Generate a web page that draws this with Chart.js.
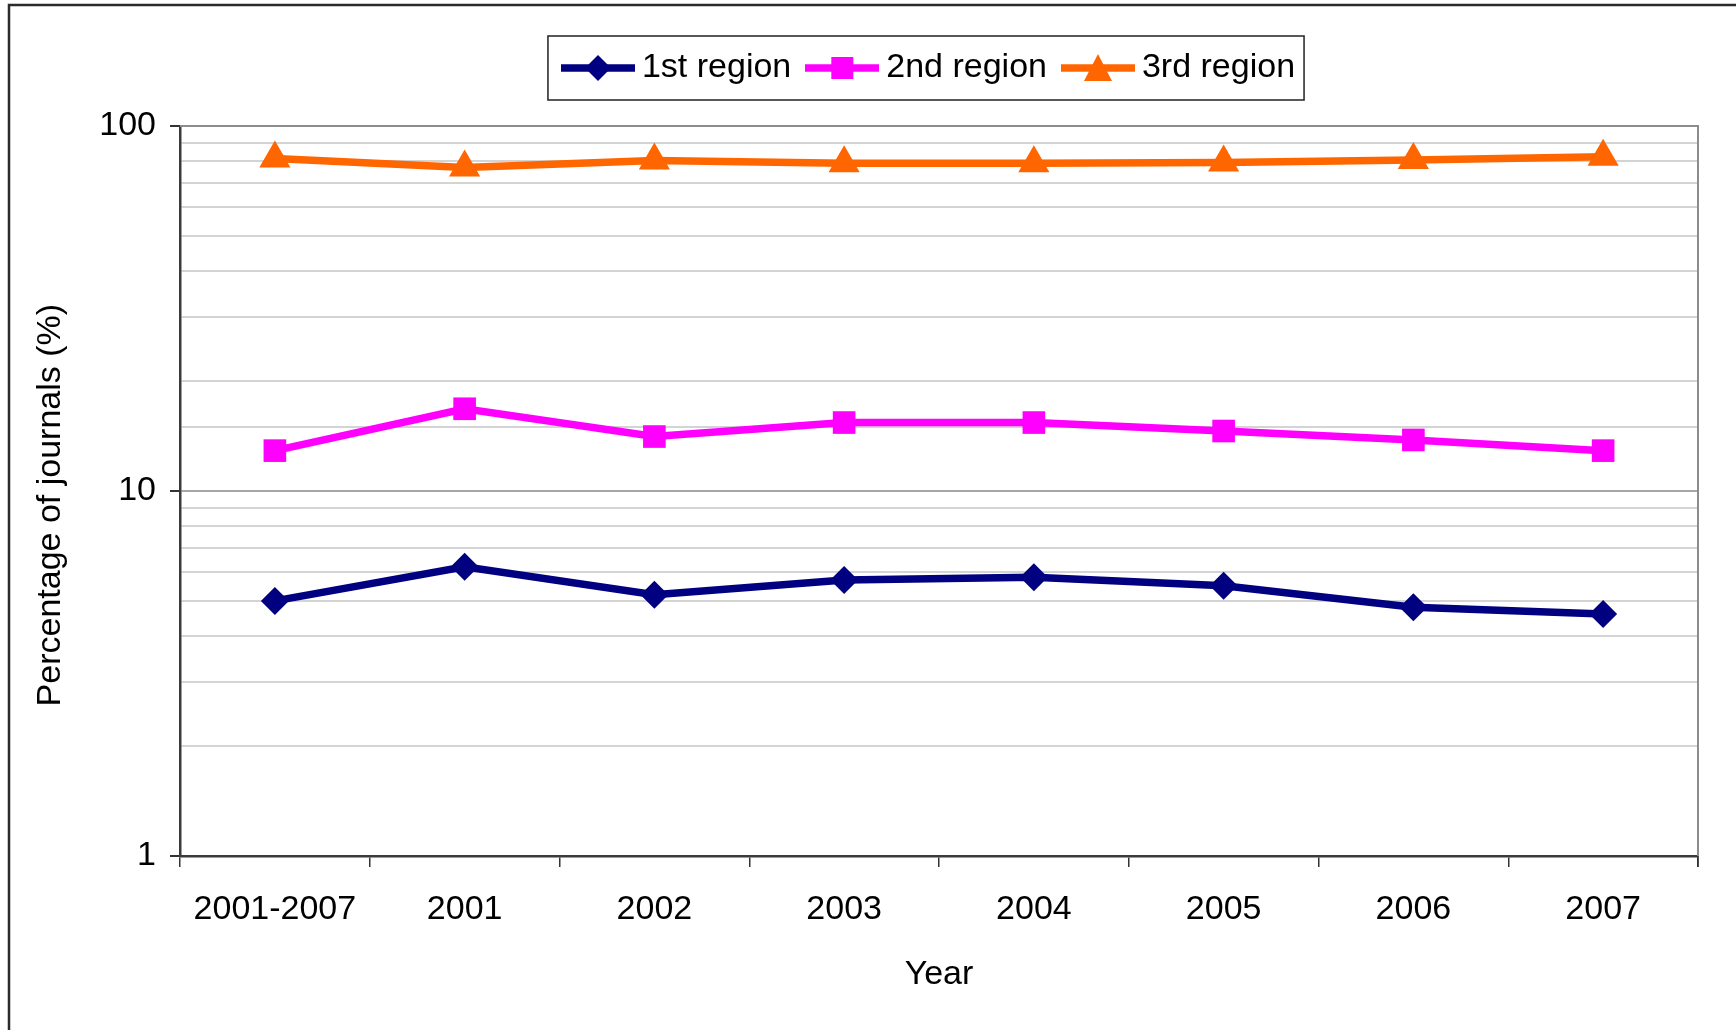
<!DOCTYPE html>
<html>
<head>
<meta charset="utf-8">
<title>Percentage of journals by region</title>
<script src="https://cdn.jsdelivr.net/npm/chart.js@4/dist/chart.umd.min.js"></script>
<style>
  html, body { margin: 0; padding: 0; background: #fff; }
  #chart { display: block; }
</style>
</head>
<body>
<canvas id="chart" width="1736" height="1030"></canvas>
<script>
// Values (log scale, percent)
const years = ['2001-2007', '2001', '2002', '2003', '2004', '2005', '2006', '2007'];
const region1 = [5.0, 6.2, 5.2, 5.7, 5.8, 5.5, 4.8, 4.6];
const region2 = [12.9, 16.8, 14.1, 15.4, 15.4, 14.6, 13.8, 12.9];
const region3 = [81.5, 77.0, 80.5, 79.0, 79.0, 79.4, 80.7, 82.4];
const seriesNames = ['1st region', '2nd region', '3rd region'];
const yTickLabels = [1, 10, 100];

const FONT = "'Liberation Sans', Arial, sans-serif";
const FONT_SIZE = 34;
const NAVY = '#000080';
const MAGENTA = '#FF00FF';
const ORANGE = '#FF6600';
const LINE_W = 7.5;

// where the legend sits, centred over the plot like the original
const LEGEND_CX = 933;
const LEGEND_CY = 68;

const isMajor = v => yTickLabels.includes(v);

// little "line + marker" icons for the legend
function legendIcon(color, shape) {
    const c = document.createElement('canvas');
    c.width = 74;
    c.height = 32;
    const g = c.getContext('2d');
    g.strokeStyle = color;
    g.fillStyle = color;
    g.lineWidth = LINE_W;
    g.beginPath();
    g.moveTo(0, 16);
    g.lineTo(74, 16);
    g.stroke();
    g.beginPath();
    if (shape === 'diamond') {
        g.moveTo(37, 3); g.lineTo(50, 16); g.lineTo(37, 29); g.lineTo(24, 16);
    } else if (shape === 'square') {
        g.rect(26, 5, 22, 22);
    } else {
        g.moveTo(37, 2); g.lineTo(51, 29); g.lineTo(23, 29);
    }
    g.closePath();
    g.fill();
    return c;
}

const icons = [
    legendIcon(NAVY, 'diamond'),
    legendIcon(MAGENTA, 'square'),
    legendIcon(ORANGE, 'triangle'),
];

// frame, plot border and legend box
const decorPlugin = {
    id: 'decor',
    afterUpdate(chart) {
        const lg = chart.legend;
        const boxes = lg.legendHitBoxes;
        if (!boxes || !boxes.length) return;
        const first = boxes[0];
        const last = boxes[boxes.length - 1];
        const cx = (first.left + last.left + last.width) / 2;
        const cy = first.top + first.height / 2;
        const dx = LEGEND_CX - cx;
        const dy = LEGEND_CY - cy;
        lg.left += dx; lg.right += dx;
        lg.top += dy; lg.bottom += dy;
        boxes.forEach(b => { b.left += dx; b.top += dy; });
    },
    beforeDraw(chart) {
        const ctx = chart.ctx;
        ctx.save();
        ctx.fillStyle = '#fff';
        ctx.fillRect(0, 0, chart.width, chart.height);
        ctx.strokeStyle = '#2b2b2b';
        ctx.lineWidth = 2.5;
        ctx.beginPath();
        ctx.moveTo(9, chart.height);
        ctx.lineTo(9, 5);
        ctx.lineTo(chart.width, 5);
        ctx.stroke();
        ctx.restore();
    },
    beforeDatasetsDraw(chart) {
        const {ctx, chartArea: a} = chart;
        ctx.save();
        ctx.strokeStyle = '#8c8c8c';
        ctx.lineWidth = 2;
        ctx.beginPath();
        ctx.moveTo(a.left, a.top);
        ctx.lineTo(a.right, a.top);
        ctx.lineTo(a.right, a.bottom);
        ctx.stroke();
        ctx.strokeStyle = '#333';
        ctx.lineWidth = 1.5;
        ctx.beginPath();
        ctx.moveTo(a.right, a.bottom);
        ctx.lineTo(a.right, a.bottom + 11);
        ctx.stroke();
        ctx.restore();
    },
    afterDraw(chart) {
        const boxes = chart.legend.legendHitBoxes;
        if (!boxes || !boxes.length) return;
        const first = boxes[0];
        const last = boxes[boxes.length - 1];
        const cy = first.top + first.height / 2;
        const ctx = chart.ctx;
        ctx.save();
        ctx.strokeStyle = '#222';
        ctx.lineWidth = 1.5;
        const left = first.left - 23;
        const right = last.left + last.width + 9;
        ctx.strokeRect(left, cy - 32, right - left, 64);
        ctx.restore();
    }
};

new Chart(document.getElementById('chart'), {
    type: 'line',
    data: {
        labels: years,
        datasets: [
            {
                label: seriesNames[0],
                data: region1,
                borderColor: NAVY,
                backgroundColor: NAVY,
                borderWidth: LINE_W,
                pointStyle: 'rectRot',
                pointRadius: 14,
                pointBorderWidth: 0,
                tension: 0,
            },
            {
                label: seriesNames[1],
                data: region2,
                borderColor: MAGENTA,
                backgroundColor: MAGENTA,
                borderWidth: LINE_W,
                pointStyle: 'rect',
                pointRadius: 16,
                pointBorderWidth: 0,
                tension: 0,
            },
            {
                label: seriesNames[2],
                data: region3,
                borderColor: ORANGE,
                backgroundColor: ORANGE,
                borderWidth: LINE_W,
                pointStyle: 'triangle',
                pointRadius: 18,
                pointBorderWidth: 0,
                tension: 0,
            }
        ]
    },
    options: {
        responsive: false,
        animation: false,
        layout: { padding: { left: 0, right: 38, top: 58, bottom: 0 } },
        plugins: {
            tooltip: { enabled: false },
            legend: {
                position: 'top',
                align: 'center',
                labels: {
                    usePointStyle: true,
                    pointStyleWidth: 54,
                    padding: 24,
                    color: '#000',
                    font: { family: FONT, size: FONT_SIZE },
                    generateLabels: chart => chart.data.datasets.map((ds, i) => ({
                        text: ds.label,
                        pointStyle: icons[i],
                        fillStyle: ds.borderColor,
                        strokeStyle: ds.borderColor,
                        lineWidth: 0,
                        fontColor: '#000',
                        hidden: false,
                        datasetIndex: i,
                    })),
                }
            }
        },
        scales: {
            x: {
                offset: true,
                afterFit: scale => { scale.height = 174; },
                grid: {
                    display: true,
                    offset: true,
                    drawOnChartArea: false,
                    drawTicks: true,
                    tickLength: 11,
                    color: '#333',
                    lineWidth: 1.5,
                },
                border: { color: '#3a3a3a', width: 2.5 },
                ticks: {
                    color: '#000',
                    padding: 22,
                    maxRotation: 0,
                    autoSkip: false,
                    font: { family: FONT, size: FONT_SIZE },
                },
                title: {
                    display: true,
                    text: 'Year',
                    color: '#000',
                    font: { family: FONT, size: FONT_SIZE },
                    padding: { top: 0, bottom: 35 },
                }
            },
            y: {
                type: 'logarithmic',
                min: 1,
                max: 100,
                afterFit: scale => { scale.width = 180; },
                grid: {
                    color: c => isMajor(c.tick && c.tick.value) ? '#a6a6a6' : '#d4d4d4',
                    lineWidth: 2,
                    tickColor: c => isMajor(c.tick && c.tick.value) ? '#333' : 'rgba(0,0,0,0)',
                    tickLength: 10,
                    drawTicks: true,
                },
                border: { color: '#3a3a3a', width: 2.5 },
                ticks: {
                    color: '#000',
                    padding: 14,
                    autoSkip: false,
                    font: { family: FONT, size: FONT_SIZE },
                    callback: v => isMajor(v) ? String(v) : '',
                },
                title: {
                    display: true,
                    // trailing spaces nudge the label a little below the axis centre, as in the original
                    text: 'Percentage of journals (%)\u00a0\u00a0\u00a0',
                    color: '#000',
                    font: { family: FONT, size: FONT_SIZE },
                    padding: { top: 30, bottom: 0 },
                }
            }
        }
    },
    plugins: [decorPlugin]
});
</script>
</body>
</html>
